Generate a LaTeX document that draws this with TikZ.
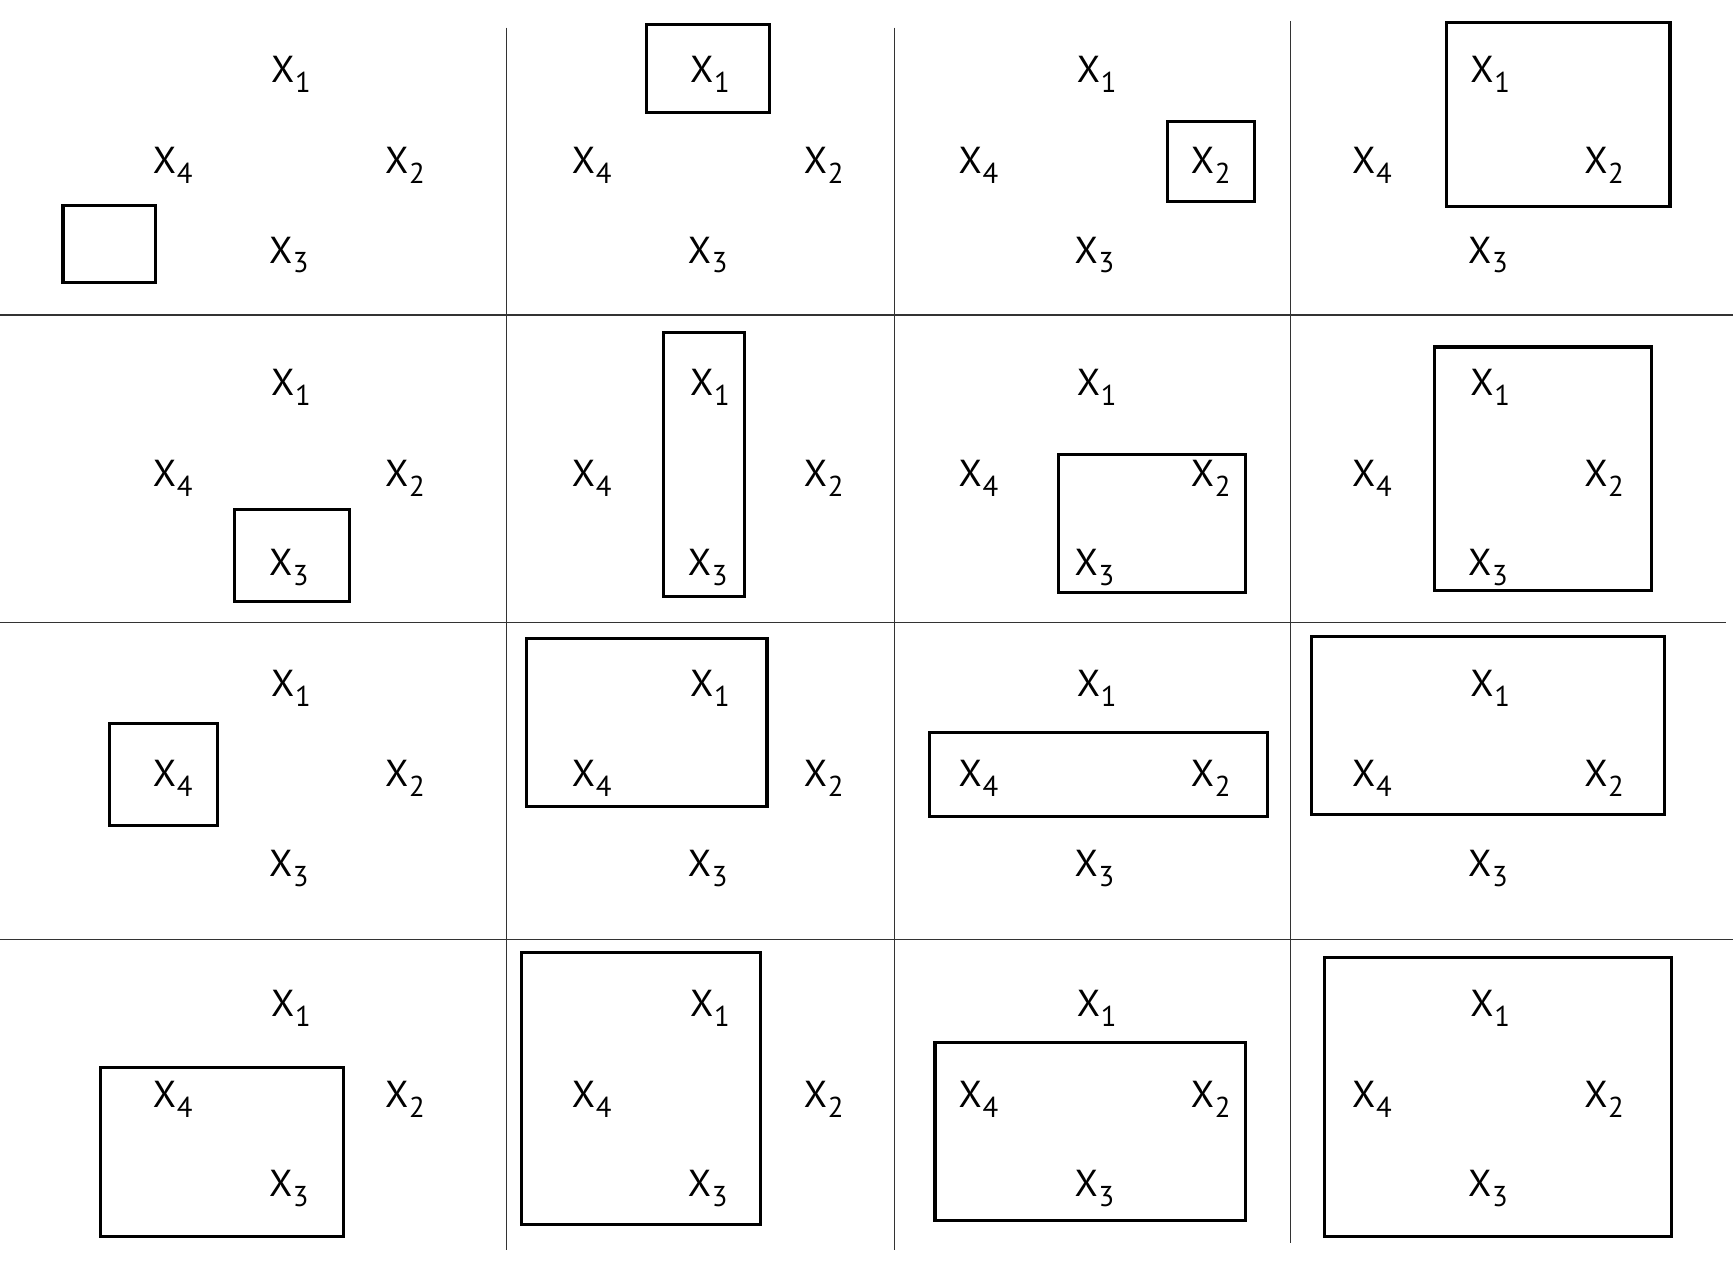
\documentclass[tikz,border=0pt]{standalone}
\usepackage{fontspec}
\setmainfont{PT Sans}[Numbers=Lining]
\newcommand{\xlab}[1]{X\kern0.02em\raisebox{-0.26em}{\fontsize{13}{15}\selectfont #1}}
\tikzset{
  lab/.style={anchor=base west, inner sep=0pt, font=\fontsize{17}{20}\selectfont},
  box/.style={draw=black, line width=1.4pt},
  grid/.style={draw=black!80, line width=0.5pt}
}
\begin{document}
\begin{tikzpicture}[x=0.5pt,y=-0.5pt]
\useasboundingbox (0,0) rectangle (1568,1149);
% grid lines
\draw[grid] (458.5,25) -- (458.5,1131);
\draw[grid] (809,25) -- (809,1131);
\draw[grid] (1168,19) -- (1168,1125);
\draw[grid] (0,285) -- (1568,285);
\draw[grid] (0,563) -- (1562,563);
\draw[grid] (0,850) -- (1568,850);
% labels
\foreach \r/\ry in {1/0,2/283,3/555,4/845}{
  \foreach \c/\cx in {1/0,2/379,3/729,4/1085}{
    \node[lab] (a\r\c) at (245+\cx,75+\ry) {\xlab{1}};
    \node[lab] (b\r\c) at (348+\cx,157+\ry) {\xlab{2}};
    \node[lab] (c\r\c) at (243+\cx,238+\ry) {\xlab{3}};
    \node[lab] (d\r\c) at (138+\cx,157+\ry) {\xlab{4}};
  }
}
% boxes row 1
\draw[box] (57,186) rectangle (141,256);
\draw[box] (585,22) rectangle (696,102);
\draw[box] (1056,110) rectangle (1135,182);
\draw[box] (1309,20) rectangle (1511,187);
% row 2
\draw[box] (212,461) rectangle (316,544);
\draw[box] (600,301) rectangle (674,540);
\draw[box] (958,411) rectangle (1127,536);
\draw[box] (1298,314) rectangle (1494,534);
% row 3
\draw[box] (99,655) rectangle (197,747);
\draw[box] (476,578) rectangle (694,730);
\draw[box] (841,663) rectangle (1147,739);
\draw[box] (1187,576) rectangle (1506,737);
% row 4
\draw[box] (91,966) rectangle (311,1119);
\draw[box] (472,862) rectangle (688,1108);
\draw[box] (846,943) rectangle (1127,1104);
\draw[box] (1198,866) rectangle (1512,1119);
\end{tikzpicture}
\end{document}
